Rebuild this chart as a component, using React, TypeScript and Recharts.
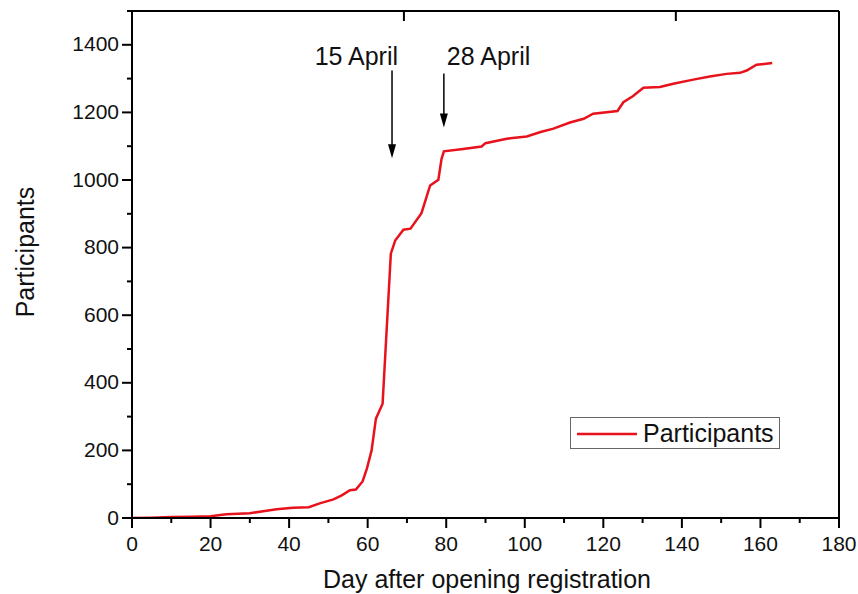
import { LineChart, Line, XAxis, YAxis, ReferenceLine, Legend } from 'recharts';

// day after opening registration -> cumulative participants
const days = [
  0, 5, 10, 15, 20, 24, 30, 33.4, 36.8, 41, 45, 48, 51.3, 53.4, 55.5, 57, 58.7, 59.8, 61, 62.1,
  63.8, 65.9, 67, 69.1, 70.9, 73.7, 75.9, 78, 78.8, 79.4, 84.3, 89, 90, 95.4, 100.5, 104, 107.3,
  111.5, 115, 117.4, 123.6, 125.1, 127.5, 130.2, 134.4, 137.8, 142.9, 147.1, 151.4, 154.8, 156.5,
  159, 163,
];
const participants = [
  0, 1, 3, 4, 5, 11, 14, 20, 26, 30, 32, 44, 55, 67, 82, 84, 108, 146, 200, 294,
  338, 782, 821, 853, 856, 902, 984, 1001, 1062, 1085, 1092, 1099, 1109, 1122, 1129, 1142, 1152,
  1170, 1181, 1196, 1204, 1230, 1248, 1273, 1275, 1285, 1297, 1306, 1314, 1317, 1324,
  1341, 1346,
];

const xTicks = [0, 10, 20, 30, 40, 50, 60, 70, 80, 90, 100, 110, 120, 130, 140, 150, 160, 170, 180];
const xTopTicks = [20, 40, 60, 80, 100, 120, 140, 160];
const yTicks = [0, 100, 200, 300, 400, 500, 600, 700, 800, 900, 1000, 1100, 1200, 1300, 1400, 1500];
const yRightTicks = [200, 400, 600, 800, 1000, 1200, 1400];

const arrowLabels = ['15 April', '28 April'];
const arrowDays = [66.2, 79.4];
const arrowFrom = [1324, 1315];
const arrowTo = [1064, 1155];

const data = days.map((d, i) => ({ day: d, participants: participants[i] }));

const FONT = '"Liberation Sans", Arial, sans-serif';
const RED = '#e8121c';

const BottomTick = (props: any) => {
  const { x, y, payload } = props;
  const major = payload.value % 20 === 0;
  return (
    <g>
      <line x1={x} y1={y} x2={x} y2={y + (major ? 10 : 5)} stroke="#000" strokeWidth={2} />
      {major && (
        <text x={x} y={y + 33} textAnchor="middle" fontSize={21} fontFamily={FONT} fill="#111">
          {payload.value}
        </text>
      )}
    </g>
  );
};

const LeftTick = (props: any) => {
  const { x, y, payload } = props;
  const major = payload.value % 200 === 0;
  return (
    <g>
      <line x1={x} y1={y} x2={x - (major ? 10 : 5)} y2={y} stroke="#000" strokeWidth={2} />
      {major && (
        <text x={x - 13} y={y + 6.5} textAnchor="end" fontSize={21} fontFamily={FONT} fill="#111">
          {payload.value}
        </text>
      )}
    </g>
  );
};

const TopTick = (props: any) => {
  const { x, y } = props;
  return <line x1={x} y1={y} x2={x} y2={y + 10} stroke="#000" strokeWidth={2} />;
};

const RightTick = (props: any) => {
  const { x, y } = props;
  return <line x1={x} y1={y} x2={x - 10} y2={y} stroke="#000" strokeWidth={2} />;
};

const arrowShape = (label: string, first: boolean) => (props: any) => {
  const { x1, y1, x2, y2 } = props;
  return (
    <g>
      <line x1={x1} y1={y1} x2={x2} y2={y2 - 10} stroke="#000" strokeWidth={1.5} />
      <polygon points={`${x2 - 4},${y2 - 14} ${x2 + 4},${y2 - 14} ${x2},${y2}`} fill="#000" />
      <text
        x={first ? x1 + 6 : x1 + 3}
        y={65}
        textAnchor={first ? 'end' : 'start'}
        fontSize={25}
        fontFamily={FONT}
        fill="#111"
      >
        {label}
      </text>
    </g>
  );
};

const LegendBox = () => (
  <div
    style={{
      width: 208,
      height: 30,
      border: '1px solid #666',
      background: '#fff',
      display: 'flex',
      alignItems: 'center',
      fontFamily: FONT,
      fontSize: 25,
      color: '#111',
    }}
  >
    <svg width={72} height={30}>
      <line x1={6} y1={16} x2={66} y2={16} stroke={RED} strokeWidth={2.5} />
    </svg>
    <span style={{ lineHeight: '30px' }}>Participants</span>
  </div>
);

export default function App() {
  return (
    <div style={{ position: 'absolute', left: 0, top: 0, width: 858, height: 594, background: '#fff' }}>
      <LineChart width={858} height={594} data={data} margin={{ top: 11, right: 19, left: 131, bottom: 75 }}>
        <XAxis
          xAxisId="main"
          dataKey="day"
          type="number"
          domain={[0, 180]}
          ticks={xTicks}
          interval={0}
          height={1}
          tickSize={0}
          tickMargin={0}
          tickLine={false}
          axisLine={{ stroke: '#000', strokeWidth: 2 }}
          tick={BottomTick}
          allowDataOverflow
        />
        <XAxis
          xAxisId="top"
          orientation="top"
          mirror
          type="number"
          domain={[0, 180]}
          ticks={xTopTicks}
          interval={0}
          height={1}
          tickSize={0}
          tickMargin={0}
          tickLine={false}
          axisLine={{ stroke: '#000', strokeWidth: 2 }}
          tick={TopTick}
        />
        <YAxis
          yAxisId="main"
          type="number"
          domain={[0, 1500]}
          ticks={yTicks}
          interval={0}
          width={1}
          tickSize={0}
          tickMargin={0}
          tickLine={false}
          axisLine={{ stroke: '#000', strokeWidth: 2 }}
          tick={LeftTick}
          allowDataOverflow
        />
        <YAxis
          yAxisId="right"
          orientation="right"
          mirror
          type="number"
          domain={[0, 1500]}
          ticks={yRightTicks}
          interval={0}
          width={1}
          tickSize={0}
          tickMargin={0}
          tickLine={false}
          axisLine={{ stroke: '#000', strokeWidth: 2 }}
          tick={RightTick}
        />
        {arrowLabels.map((label, i) => (
          <ReferenceLine
            key={label}
            xAxisId="main"
            yAxisId="main"
            segment={[
              { x: arrowDays[i], y: arrowFrom[i] },
              { x: arrowDays[i], y: arrowTo[i] },
            ]}
            shape={arrowShape(label, i === 0)}
          />
        ))}
        <Line
          xAxisId="main"
          yAxisId="main"
          type="linear"
          dataKey="participants"
          name="Participants"
          stroke={RED}
          strokeWidth={2.5}
          dot={false}
          isAnimationActive={false}
        />
        <Legend
          layout="vertical"
          align="center"
          verticalAlign="middle"
          content={LegendBox}
          wrapperStyle={{ left: 570, top: 417, width: 210, height: 32 }}
        />
      </LineChart>
      <div
        style={{
          position: 'absolute',
          left: 25,
          top: 252,
          transform: 'translate(-50%, -50%) rotate(-90deg)',
          fontFamily: FONT,
          fontSize: 25,
          color: '#111',
          whiteSpace: 'nowrap',
          lineHeight: '25px',
        }}
      >
        Participants
      </div>
      <div
        style={{
          position: 'absolute',
          left: 487,
          top: 567,
          transform: 'translateX(-50%)',
          fontFamily: FONT,
          fontSize: 25,
          color: '#111',
          whiteSpace: 'nowrap',
          lineHeight: '25px',
        }}
      >
        Day after opening registration
      </div>
    </div>
  );
}
